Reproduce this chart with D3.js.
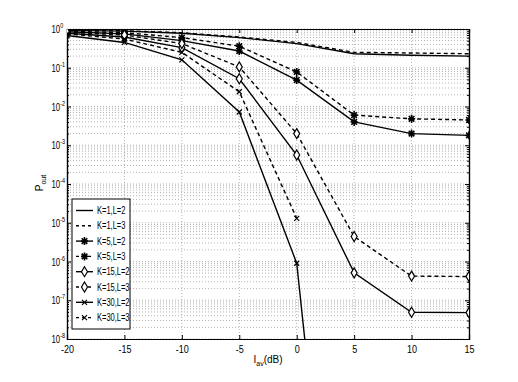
<!DOCTYPE html>
<html>
<head>
<meta charset="utf-8">
<script src="https://cdn.jsdelivr.net/npm/d3@7"></script>
<style>
  body { margin: 0; background: #fff; }
  svg { display: block; font-family: "Liberation Sans", Arial, sans-serif; }
</style>
</head>
<body>
<svg id="chart" width="518" height="382"></svg>
<script>
// x axis values (dB)
const snr = [-20, -15, -10, -5, 0, 5, 10, 15];
const xTicks = [-20, -15, -10, -5, 0, 5, 10, 15];
const yExps = [0, -1, -2, -3, -4, -5, -6, -7, -8];

// outage probability per curve
const k1l2 = [0.92, 0.88, 0.78, 0.6, 0.42, 0.23, 0.21, 0.2];
const k1l3 = [0.93, 0.9, 0.8, 0.62, 0.45, 0.25, 0.24, 0.23];
const k5l2 = [0.85, 0.75, 0.5, 0.27, 0.048, 0.004, 0.002, 0.0018];
const k5l3 = [0.88, 0.8, 0.6, 0.36, 0.078, 0.006, 0.0048, 0.0045];
const k15l2 = [0.78, 0.62, 0.33, 0.052, 5.6e-4, 5.1e-7, 4.9e-8, 4.8e-8];
const k15l3 = [0.82, 0.7, 0.42, 0.105, 0.002, 4.4e-6, 4.2e-7, 4.1e-7];
const k30l2 = [0.68, 0.45, 0.16, 0.0072, 9e-7, 1e-20, null, null];
const k30l3 = [0.75, 0.55, 0.25, 0.024, 1.3e-5, null, null, null];

const labels = ["K=1,L=2", "K=1,L=3", "K=5,L=2", "K=5,L=3",
                "K=15,L=2", "K=15,L=3", "K=30,L=2", "K=30,L=3"];
const seriesVals = [k1l2, k1l3, k5l2, k5l3, k15l2, k15l3, k30l2, k30l3];
const markers = ["none", "none", "star", "star", "diamond", "diamond", "x", "x"];
const dashed = [false, true, false, true, false, true, false, true];

const svg = d3.select("#chart");
const width = +svg.attr("width");
const height = +svg.attr("height");
const margin = { top: 29, right: 49, bottom: 43, left: 67 };
const innerWidth = width - margin.left - margin.right;
const innerHeight = height - margin.top - margin.bottom;

const xScale = d3.scaleLinear().domain([-20, 15]).range([0, innerWidth]);
const yScale = d3.scaleLog().domain([1e-8, 1]).range([innerHeight, 0]);

const g = svg.append("g").attr("transform", `translate(${margin.left}, ${margin.top})`);

svg.append("defs").append("clipPath").attr("id", "plotClip")
  .append("rect").attr("x", 0).attr("y", 0)
  .attr("width", innerWidth).attr("height", innerHeight);

// squeeze text horizontally, the exported figure looks condensed
function squeeze(sel, k) {
  sel.each(function () {
    const w = this.getComputedTextLength();
    d3.select(this).attr("textLength", w * k).attr("lengthAdjust", "spacingAndGlyphs");
  });
}

// grid
const minorVals = [];
yExps.forEach(e => {
  if (e < 0) for (let m = 2; m <= 9; m++) minorVals.push(m * Math.pow(10, e));
});
const grid = g.append("g").attr("stroke", "#a0a0a0").attr("stroke-width", 0.8)
  .attr("stroke-dasharray", "1,2").attr("fill", "none");
grid.selectAll(".hgrid").data(minorVals.concat(yExps.map(e => Math.pow(10, e))))
  .enter().append("line")
  .attr("x1", 0).attr("x2", innerWidth)
  .attr("y1", d => yScale(d)).attr("y2", d => yScale(d));
grid.selectAll(".vgrid").data(xTicks.slice(1, -1))
  .enter().append("line")
  .attr("y1", 0).attr("y2", innerHeight)
  .attr("x1", d => xScale(d)).attr("x2", d => xScale(d));

// axes: ticks pointing inward, box on all sides
const xAxisB = d3.axisBottom(xScale).tickValues(xTicks).tickSize(-4).tickPadding(7)
  .tickFormat(d => d < 0 ? "-" + Math.abs(d) : d);
const xAxisG = g.append("g").attr("transform", `translate(0, ${innerHeight})`).call(xAxisB);
xAxisG.selectAll("text").attr("font-size", 10).attr("fill", "#000").call(squeeze, 0.9);
g.append("g").call(d3.axisTop(xScale).tickValues(xTicks).tickSize(-4).tickFormat(""));

const majorVals = yExps.map(e => Math.pow(10, e));
g.append("g").call(d3.axisLeft(yScale).tickValues(minorVals).tickSize(-2).tickFormat(""));
g.append("g").call(d3.axisLeft(yScale).tickValues(majorVals).tickSize(-4).tickFormat(""));
g.append("g").attr("transform", `translate(${innerWidth}, 0)`)
  .call(d3.axisRight(yScale).tickValues(minorVals).tickSize(-2).tickFormat(""));
g.append("g").attr("transform", `translate(${innerWidth}, 0)`)
  .call(d3.axisRight(yScale).tickValues(majorVals).tickSize(-4).tickFormat(""));
g.selectAll(".domain").attr("stroke", "#000").attr("stroke-width", 1.2);
g.selectAll(".tick line").attr("stroke", "#000");

// y tick labels 10^n, one text each
const yLab = g.append("g").attr("font-size", 10);
yExps.forEach(e => {
  const t = yLab.append("text").attr("x", -15.5).attr("y", yScale(Math.pow(10, e)) + 4);
  t.append("tspan").text("10");
  t.append("tspan").attr("font-size", 7).attr("dy", -5)
    .text(e < 0 ? "-" + Math.abs(e) : e);
  t.call(squeeze, 0.78);
});

// axis labels
const yl = g.append("text").attr("transform", `translate(-24, 154) rotate(-90)`)
  .attr("font-size", 10).attr("text-anchor", "middle");
yl.append("tspan").text("P");
yl.append("tspan").attr("font-size", 7).attr("dy", 3).text("out");

const xl = g.append("text").attr("x", xScale(-2.5)).attr("y", innerHeight + 24)
  .attr("font-size", 10).attr("text-anchor", "middle");
xl.append("tspan").text("I");
xl.append("tspan").attr("font-size", 7).attr("dy", 3).text("av");
xl.append("tspan").attr("dy", -3).text("(dB)");

// marker drawing
function drawMarker(sel, type) {
  sel.attr("fill", "none").attr("stroke", "#000").attr("stroke-width", 1.2);
  if (type === "star") {
    sel.append("path").attr("d", "M0,-4V4M-3.5,0H3.5M-2.8,-2.8L2.8,2.8M-2.8,2.8L2.8,-2.8")
      .attr("stroke-width", 1.6);
  } else if (type === "diamond") {
    sel.append("path").attr("d", "M0,-5L3,0L0,5L-3,0Z").attr("fill", "#fff");
  } else if (type === "x") {
    sel.append("path").attr("d", "M-2.5,-2.5L2.5,2.5M-2.5,2.5L2.5,-2.5");
  }
}

const line = d3.line()
  .defined(d => d.v !== null)
  .x(d => xScale(d.x))
  .y(d => yScale(d.v));

const plot = g.append("g").attr("clip-path", "url(#plotClip)");
seriesVals.forEach((vals, i) => {
  const pts = snr.map((x, j) => ({ x: x, v: vals[j] }));
  plot.append("path").datum(pts)
    .attr("d", line)
    .attr("fill", "none").attr("stroke", "#000").attr("stroke-width", 1.4)
    .attr("stroke-dasharray", dashed[i] ? "4,3" : null);
  if (markers[i] !== "none") {
    plot.selectAll(null).data(pts.filter(d => d.v !== null && d.v >= 1e-8))
      .enter().append("g")
      .attr("transform", d => `translate(${xScale(d.x)}, ${yScale(d.v)})`)
      .each(function () { drawMarker(d3.select(this), markers[i]); });
  }
});

// legend
const lg = svg.append("g").attr("transform", "translate(72, 199)");
lg.append("rect").attr("width", 58).attr("height", 130)
  .attr("fill", "#fff").attr("stroke", "#000").attr("stroke-width", 1);
labels.forEach((lab, i) => {
  const y = 11.5 + i * 15.3;
  lg.append("line").attr("x1", 4).attr("x2", 21).attr("y1", y).attr("y2", y)
    .attr("stroke", "#000").attr("stroke-width", 1.4)
    .attr("stroke-dasharray", dashed[i] ? "3,3" : null);
  if (markers[i] !== "none") {
    drawMarker(lg.append("g").attr("transform", `translate(12.5, ${y})`), markers[i]);
  }
  lg.append("text").attr("x", 25).attr("y", y + 3.5)
    .attr("font-size", 10).text(lab).call(squeeze, 0.75);
});
</script>
</body>
</html>
